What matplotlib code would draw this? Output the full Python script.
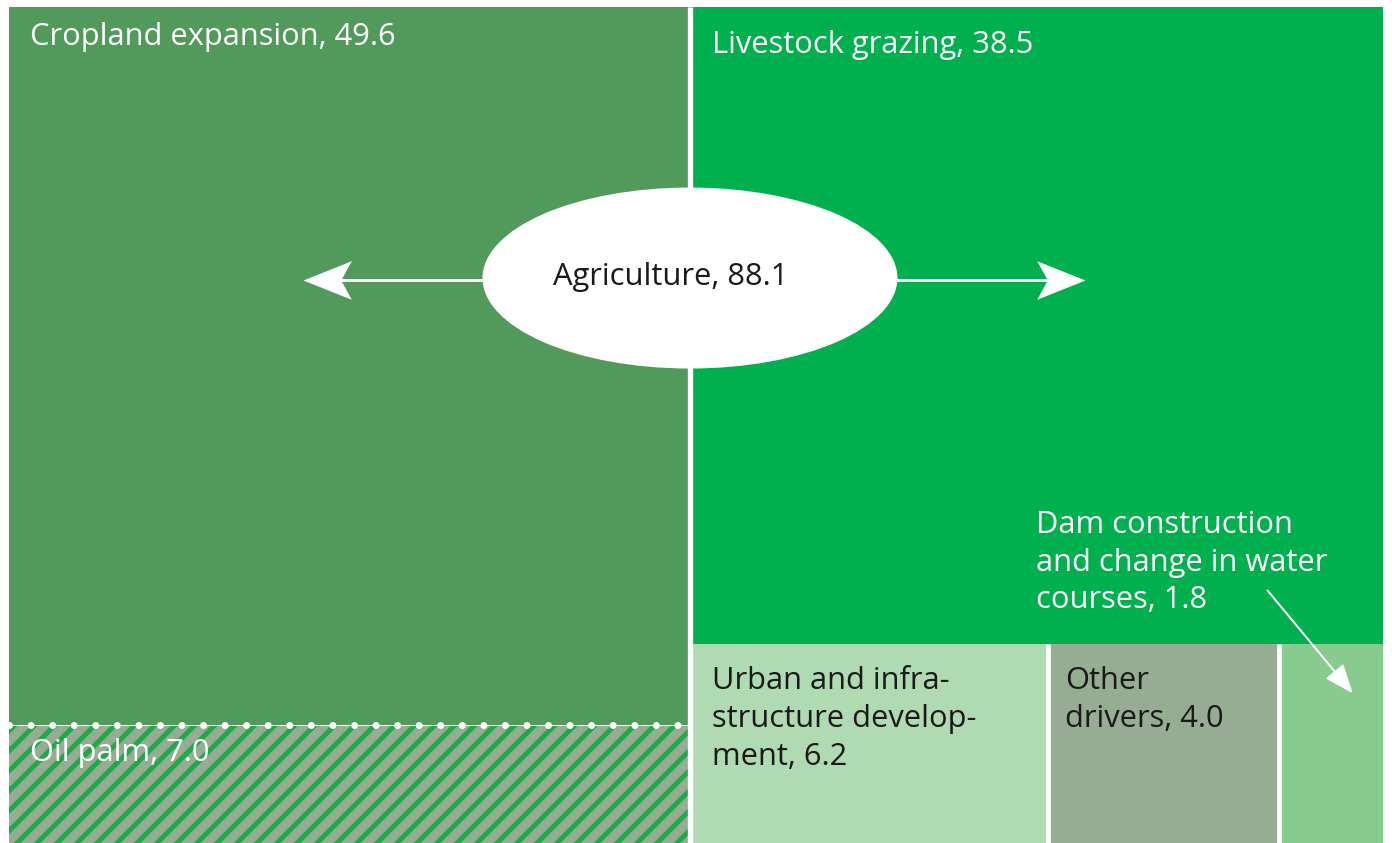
import numpy as np
import matplotlib
matplotlib.use("Agg")
from matplotlib import pyplot as plt
from matplotlib.patches import Rectangle, Ellipse
from matplotlib.path import Path

# shares of tropical deforestation by driver (%)
agri_label = "Agriculture, 88.1"
cropland = 49.6
oil_palm = 7.0          # part of cropland
livestock = 38.5
bottom_names = ["Urban and infra-\nstructure develop-\nment", "Other\ndrivers", "Dam construction\nand change in water\ncourses"]
bottom_vals = [6.2, 4.0, 1.8]

c_crop = "#529a5c"
c_live = "#00b04f"
c_bottom = ["#b0dab2", "#97ad93", "#88cb8e"]
c_oil_bg = "#97ad93"
c_oil_hatch = "#22a84a"
dark = "#1a1a1a"

plt.rcParams['font.family'] = ['Open Sans', 'DejaVu Sans']
plt.rcParams['hatch.linewidth'] = 3.0
plt.rcParams['hatch.color'] = c_oil_hatch

DPI = 120
fig = plt.figure(figsize=(1392 / DPI, 843 / DPI), dpi=DPI)
ax = fig.add_axes([9 / 1392, 0, 1374 / 1392, 836 / 843])

total = cropland + livestock + sum(bottom_vals)
right_w = total - cropland
h_oil = oil_palm / cropland
h_bot = sum(bottom_vals) / right_w

# left column
ax.add_patch(Rectangle((0, h_oil), cropland, 1 - h_oil, color=c_crop, lw=0))
ax.add_patch(Rectangle((0, 0), cropland, h_oil, facecolor=c_oil_bg,
                       edgecolor=c_oil_hatch, hatch='//', lw=0))
# right column
ax.add_patch(Rectangle((cropland, h_bot), right_w, 1 - h_bot, color=c_live, lw=0))
x0 = cropland
edges = []
for v, c in zip(bottom_vals, c_bottom):
    w = v / sum(bottom_vals) * right_w
    ax.add_patch(Rectangle((x0, 0), w, h_bot, color=c, lw=0))
    edges.append(x0)
    x0 += w

# white separators
ax.plot([cropland, cropland], [0, 1], color='white', lw=3.2, solid_capstyle='butt')
for e in edges[1:]:
    ax.plot([e, e], [0, h_bot], color='white', lw=2.8, solid_capstyle='butt')
ax.plot([0, cropland], [h_oil, h_oil], color='white', lw=0.6)
ax.plot([0, cropland], [h_oil, h_oil], color='white', lw=4.2,
        linestyle=(0, (0.01, 3.07)), dash_capstyle='round')

ax.set_xlim(0, total)
ax.set_ylim(0, 1)
ax.axis('off')

fs = 18.5
ls = 1.33
lab = dict(textcoords='offset pixels', ha='left', va='top', fontsize=fs, linespacing=ls)
ax.annotate(f"Cropland expansion, {cropland}", (0, 1), xytext=(21, -15), color='white', **lab)
ax.annotate(f"Livestock grazing, {livestock}", (cropland, 1), xytext=(22, -23), color='white', **lab)
ax.annotate(f"Oil palm, {oil_palm}", (0, h_oil), xytext=(21, -13), color='white', **lab)
ax.annotate(f"{bottom_names[0]}, {bottom_vals[0]}", (edges[0], h_bot), xytext=(22, -22), color=dark, **lab)
ax.annotate(f"{bottom_names[1]}, {bottom_vals[1]}", (edges[1], h_bot), xytext=(17, -22), color=dark, **lab)
ax.text(0.7475, 0.398, f"{bottom_names[2]}, {bottom_vals[2]}", transform=ax.transAxes,
        ha='left', va='top', fontsize=fs, linespacing=ls, color='white')
ax.annotate("", xy=(0.978, 0.179), xytext=(0.916, 0.302), xycoords='axes fraction',
            arrowprops=dict(arrowstyle='-|>,head_length=0.75,head_width=0.3',
                            color='white', lw=1.2, mutation_scale=20, shrinkA=0, shrinkB=0))

# Agriculture ellipse with two arrows
ax.add_patch(Ellipse((0.4956, 0.6758), 0.302, 0.2165, transform=ax.transAxes,
                     color='white', lw=0, zorder=5))
ax.text(0.4818, 0.677, agri_label, transform=ax.transAxes, ha='center', va='center',
        fontsize=fs, color=dark, zorder=6)
ay = 0.6734
head_r = Path([(0, 0), (-1, 0.4), (-0.78, 0), (-1, -0.4), (0, 0)],
              [Path.MOVETO, Path.LINETO, Path.LINETO, Path.LINETO, Path.CLOSEPOLY])
head_l = Path([(-x, y) for x, y in head_r.vertices], head_r.codes)
ax.plot([0.345, 0.24], [ay, ay], transform=ax.transAxes, color='white', lw=1.8, zorder=4)
ax.plot([0.647, 0.755], [ay, ay], transform=ax.transAxes, color='white', lw=1.8, zorder=4)
ax.plot([0.214], [ay], transform=ax.transAxes, marker=head_l, markersize=58,
        color='white', markeredgewidth=0, zorder=4)
ax.plot([0.783], [ay], transform=ax.transAxes, marker=head_r, markersize=58,
        color='white', markeredgewidth=0, zorder=4)

fig.savefig("out.png", dpi=DPI, facecolor='white')
